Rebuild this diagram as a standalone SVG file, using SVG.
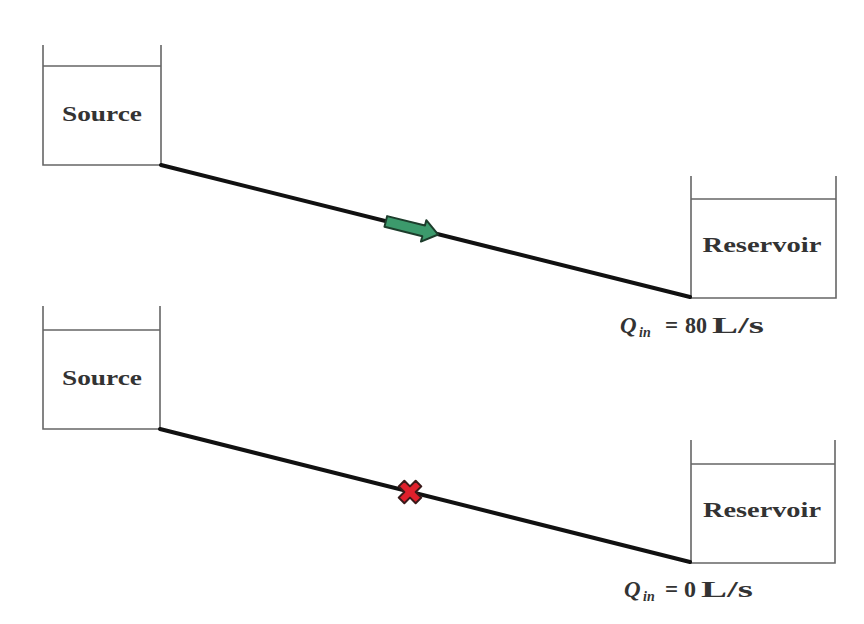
<svg xmlns="http://www.w3.org/2000/svg" width="864" height="624" viewBox="0 0 864 624">
<style>
.tank{fill:none;stroke:#666;stroke-width:1.6}
.pipe{stroke:#111;stroke-width:4;stroke-linecap:round}
.lbl{font-family:"Liberation Serif","Times New Roman",serif;font-weight:bold;font-size:21px;fill:#333}
.q{font-family:"Liberation Serif","Times New Roman",serif;font-weight:bold;font-size:23px;fill:#333}
.qi{font-style:italic}
.sub{font-style:italic;font-size:14px}
</style>
<rect width="864" height="624" fill="#fff"/>
<g id="source1">
<path class="tank" d="M43,45 V165 H161 M161,45 V165 M43,66 H161"/>
<text class="lbl" x="102" y="121" text-anchor="middle" textLength="80" lengthAdjust="spacingAndGlyphs">Source</text>
</g>
<g id="reservoir1">
<path class="tank" d="M691,176 V298 H836 V176 M691,199 H836"/>
<text class="lbl" x="762" y="252" text-anchor="middle" textLength="119" lengthAdjust="spacingAndGlyphs">Reservoir</text>
<text class="q" y="333"><tspan class="qi" x="620">Q</tspan><tspan class="sub" x="639" y="337">in</tspan><tspan x="665" y="333">=</tspan><tspan x="685" textLength="22" lengthAdjust="spacingAndGlyphs">80</tspan><tspan x="712" textLength="52" lengthAdjust="spacingAndGlyphs">L/s</tspan></text>
</g>
<g id="source2">
<path class="tank" d="M43,306 V429 H160 M160,306 V429 M43,330 H160"/>
<text class="lbl" x="102" y="385" text-anchor="middle" textLength="80" lengthAdjust="spacingAndGlyphs">Source</text>
</g>
<g id="reservoir2">
<path class="tank" d="M691,440 V563 H835 V440 M691,464 H835"/>
<text class="lbl" x="762" y="517" text-anchor="middle" textLength="118" lengthAdjust="spacingAndGlyphs">Reservoir</text>
<text class="q" y="597"><tspan class="qi" x="624">Q</tspan><tspan class="sub" x="643" y="601">in</tspan><tspan x="665" y="597">=</tspan><tspan x="684" textLength="12" lengthAdjust="spacingAndGlyphs">0</tspan><tspan x="701" textLength="52" lengthAdjust="spacingAndGlyphs">L/s</tspan></text>
</g>
<g id="connectors">
<line class="pipe" x1="161" y1="165" x2="690" y2="297"/>
<line class="pipe" x1="160" y1="429" x2="690" y2="562"/>
</g>
<g id="flow-arrow" transform="translate(412,228) rotate(14)">
<path d="M-27,-5.5 H12 V-11 L27,0 L12,11 V5.5 H-27 Z" fill="#3c9a6c" stroke="#1d3d2c" stroke-width="2" stroke-linejoin="round"/>
</g>
<g id="blocked" transform="translate(410,492) rotate(45)">
<path d="M-4,-12 H4 V-4 H12 V4 H4 V12 H-4 V4 H-12 V-4 H-4 Z" fill="#e0202c" stroke="#3a1a1a" stroke-width="2" stroke-linejoin="round"/>
</g>
</svg>
